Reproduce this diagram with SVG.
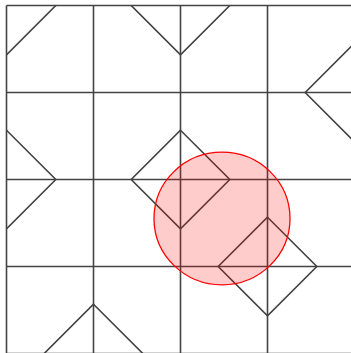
<svg xmlns="http://www.w3.org/2000/svg" width="351" height="353" viewBox="0 0 351 353">
  <style>
    .g { stroke: #444; stroke-width: 1.6; fill: none; }
    .d { stroke: #444; stroke-width: 1.6; fill: none; stroke-linejoin: miter; }
    .c { fill: #ff0000; fill-opacity: 0.2; stroke: #ff0000; stroke-width: 1.3; }
  </style>
  <defs>
    <clipPath id="area">
      <rect x="6.5" y="5.5" width="348" height="348"/>
    </clipPath>
    <path id="dm" d="M0,-49.3 L49.3,0 L0,49.3 L-49.3,0 Z"/>
  </defs>
  <rect width="351" height="353" fill="#ffffff"/>
  <g id="grid" class="g">
    <line x1="6.5" y1="5.5" x2="6.5" y2="353.5"/>
    <line x1="93.5" y1="5.5" x2="93.5" y2="353.5"/>
    <line x1="180.5" y1="5.5" x2="180.5" y2="353.5"/>
    <line x1="267.5" y1="5.5" x2="267.5" y2="353.5"/>
    <line x1="354.5" y1="5.5" x2="354.5" y2="353.5"/>
    <line x1="6.5" y1="5.5" x2="354.5" y2="5.5"/>
    <line x1="6.5" y1="92.5" x2="354.5" y2="92.5"/>
    <line x1="6.5" y1="179.5" x2="354.5" y2="179.5"/>
    <line x1="6.5" y1="266.5" x2="354.5" y2="266.5"/>
    <line x1="6.5" y1="353.5" x2="354.5" y2="353.5"/>
  </g>
  <g id="diamonds" class="d" clip-path="url(#area)">
    <g id="diamond-0-0"><use href="#dm" x="6.5" y="5.5"/></g>
    <g id="diamond-2-0"><use href="#dm" x="180.5" y="5.5"/></g>
    <g id="diamond-4-1"><use href="#dm" x="354.5" y="92.5"/></g>
    <g id="diamond-0-2"><use href="#dm" x="6.5" y="179.5"/></g>
    <g id="diamond-2-2"><use href="#dm" x="180.5" y="179.5"/></g>
    <g id="diamond-3-3"><use href="#dm" x="267.5" y="266.5"/></g>
    <g id="diamond-1-4"><use href="#dm" x="93.5" y="353.5"/></g>
  </g>
  <g id="circle">
    <ellipse class="c" cx="222" cy="218.5" rx="68" ry="66.3"/>
  </g>
</svg>
